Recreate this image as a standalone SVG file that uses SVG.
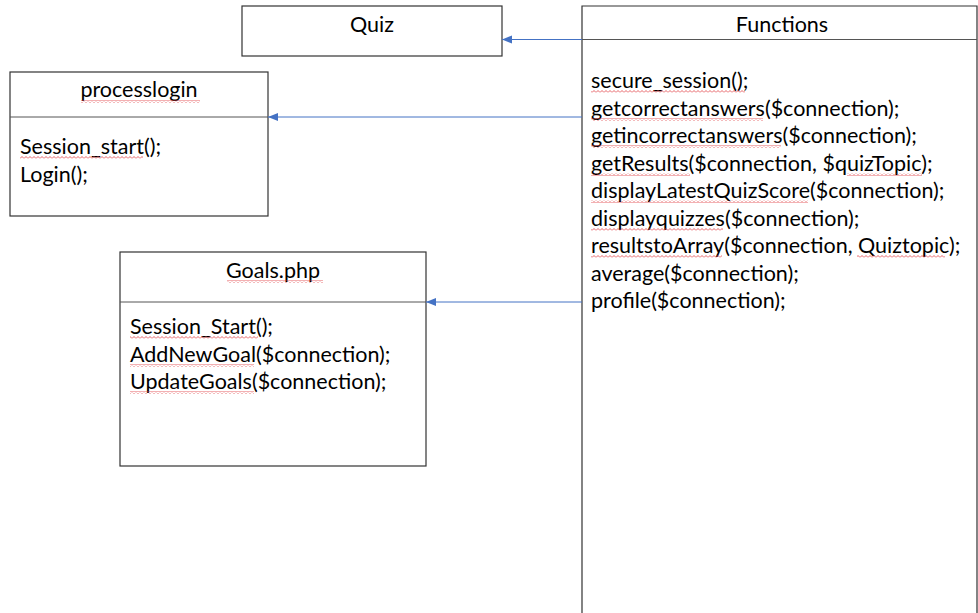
<svg xmlns="http://www.w3.org/2000/svg" width="978" height="613" viewBox="0 0 978 613">
<style>
.box{fill:#fff;stroke:#333;stroke-width:1.2}
.div{stroke:#555;stroke-width:1}
.t{font-family:Lato,"Liberation Sans",sans-serif;font-size:21.5px;fill:#000}
.c{text-anchor:middle}
.conn{stroke:#4472C4;stroke-width:1;fill:none;marker-end:url(#ah)}
.sq{fill:url(#wave)}
</style>
<defs>
<marker id="ah" viewBox="0 0 10 10" refX="10" refY="5" markerWidth="10" markerHeight="10" markerUnits="userSpaceOnUse" orient="auto">
<path d="M0,1 L10,5 L0,9 z" fill="#4472C4"/>
</marker>
<pattern id="wave" width="4" height="3" patternUnits="userSpaceOnUse">
<path d="M0,2.5 L2,0.5 L4,2.5" stroke="#e0393e" stroke-width="0.8" fill="none"/>
</pattern>
</defs>
<rect width="978" height="613" fill="#fff"/>
<g id="quiz">
<rect class="box" x="242" y="6" width="260" height="50"/>
<text class="t c" x="372" y="32">Quiz</text>
</g>
<g id="functions">
<path class="box" d="M582,620 L582,6 L977,6 L977,620"/>
<line class="div" x1="582" y1="39.5" x2="977" y2="39.5"/>
<text class="t c" x="782" y="32">Functions</text>
<text class="t" x="591" y="88">secure_session();</text>
<text class="t" x="591" y="115.5">getcorrectanswers($connection);</text>
<text class="t" x="591" y="143">getincorrectanswers($connection);</text>
<text class="t" x="591" y="170.5">getResults($connection, $quizTopic);</text>
<text class="t" x="591" y="198">displayLatestQuizScore($connection);</text>
<text class="t" x="591" y="225.5">displayquizzes($connection);</text>
<text class="t" x="591" y="253">resultstoArray($connection, Quiztopic);</text>
<text class="t" x="591" y="280.5">average($connection);</text>
<text class="t" x="591" y="308">profile($connection);</text>
<rect class="sq" x="591" y="90" width="154" height="3"/>
<rect class="sq" x="591" y="118" width="172" height="3"/>
<rect class="sq" x="591" y="145" width="190" height="3"/>
<rect class="sq" x="591" y="173" width="99" height="3"/>
<rect class="sq" x="847" y="173" width="75" height="3"/>
<rect class="sq" x="591" y="200" width="217" height="3"/>
<rect class="sq" x="591" y="228" width="132" height="3"/>
<rect class="sq" x="591" y="255" width="131" height="3"/>
<rect class="sq" x="857" y="255" width="88" height="3"/>
</g>
<g id="processlogin">
<rect class="box" x="10" y="72" width="258" height="144"/>
<line class="div" x1="10" y1="117" x2="268" y2="117"/>
<text class="t c" x="139" y="97">processlogin</text>
<text class="t" x="20" y="154">Session_start();</text>
<text class="t" x="20" y="182">Login();</text>
<rect class="sq" x="81" y="100" width="119" height="3"/>
<rect class="sq" x="20" y="156" width="123" height="3"/>
</g>
<g id="goals">
<rect class="box" x="120" y="252" width="306" height="214"/>
<line class="div" x1="120" y1="302" x2="426" y2="302"/>
<text class="t c" x="273" y="278">Goals.php</text>
<text class="t" x="130" y="334">Session_Start();</text>
<text class="t" x="130" y="362">AddNewGoal($connection);</text>
<text class="t" x="130" y="389">UpdateGoals($connection);</text>
<rect class="sq" x="227" y="280" width="96" height="3"/>
<rect class="sq" x="130" y="336" width="128" height="3"/>
<rect class="sq" x="130" y="364" width="124" height="3"/>
<rect class="sq" x="130" y="391" width="124" height="3"/>
</g>
<g id="connectors">
<line class="conn" x1="582" y1="39.5" x2="502" y2="39.5"/>
<line class="conn" x1="582" y1="117" x2="268" y2="117"/>
<line class="conn" x1="582" y1="302" x2="426" y2="302"/>
</g>
</svg>
